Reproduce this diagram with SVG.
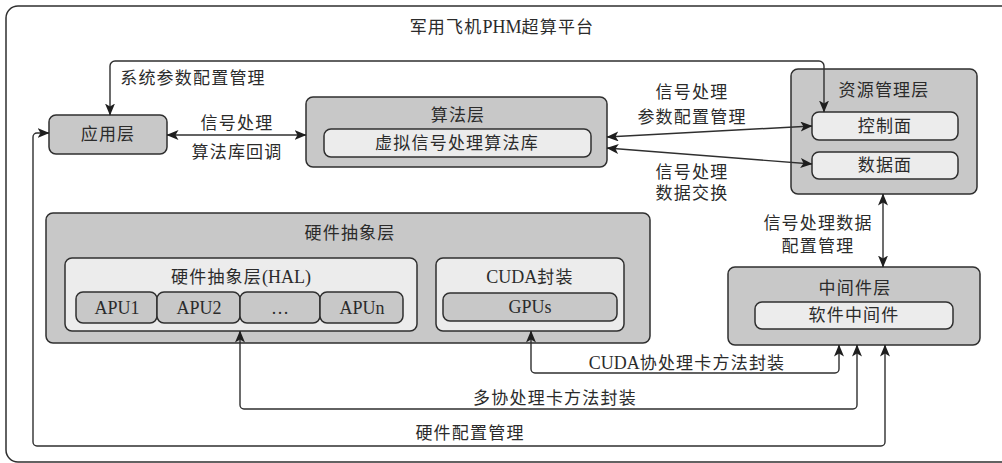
<svg xmlns="http://www.w3.org/2000/svg" width="1002" height="463" viewBox="0 0 1002 463">
<style>
.t{font-family:"Liberation Serif","Noto Sans CJK SC",serif;font-size:17px;fill:#2b2b2b;text-anchor:middle;dominant-baseline:central;letter-spacing:1.2px}
.n{letter-spacing:0;font-size:18px}
.g{fill:#c8c8c8;stroke:#2f2f2f;stroke-width:1.5}
.l{fill:#ececec;stroke:#2f2f2f;stroke-width:1.5}
.c{fill:none;stroke:#2f2f2f;stroke-width:1.4;marker-start:url(#ah);marker-end:url(#ah)}
</style>
<defs>
<marker id="ah" viewBox="0 0 12 10" refX="11.5" refY="5" markerWidth="12" markerHeight="10" markerUnits="userSpaceOnUse" orient="auto-start-reverse">
<path d="M0,0 L12,5 L0,10 L3,5 z" fill="#1e1e1e"/>
</marker>
</defs>
<rect width="1002" height="463" fill="#ffffff"/>
<g id="platform">
<rect x="6" y="6" width="1010" height="456" rx="12" fill="none" stroke="#2f2f2f" stroke-width="1.5"/>
<text class="t" x="502" y="27">军用飞机<tspan class="n">PHM</tspan>超算平台</text>
</g>
<g id="app">
<rect class="g" x="49" y="115" width="118" height="39" rx="7"/>
<text class="t" x="108" y="134">应用层</text>
</g>
<g id="algo">
<rect class="g" x="306" y="97" width="301" height="70" rx="7"/>
<text class="t" x="458" y="115">算法层</text>
<rect class="l" x="324" y="129" width="267" height="28" rx="7"/>
<text class="t" x="457" y="143">虚拟信号处理算法库</text>
</g>
<g id="resource">
<rect class="g" x="791" y="69" width="186" height="125" rx="7"/>
<text class="t" x="884" y="90">资源管理层</text>
<rect class="l" x="812" y="112" width="146" height="28" rx="7"/>
<text class="t" x="885" y="126">控制面</text>
<rect class="l" x="812" y="152" width="146" height="27" rx="7"/>
<text class="t" x="885" y="165">数据面</text>
</g>
<g id="middleware">
<rect class="g" x="728" y="267" width="252" height="78" rx="7"/>
<text class="t" x="855" y="288">中间件层</text>
<rect class="l" x="755" y="302" width="198" height="27" rx="7"/>
<text class="t" x="854" y="315">软件中间件</text>
</g>
<g id="hardware">
<rect class="g" x="46" y="213" width="604" height="130" rx="7"/>
<text class="t" x="350" y="233">硬件抽象层</text>
<g id="hal">
<rect class="l" x="65" y="258" width="352" height="73" rx="7"/>
<text class="t" x="241" y="277">硬件抽象层<tspan class="n">(HAL)</tspan></text>
<rect class="g" x="76" y="292" width="81" height="31" rx="7"/>
<text class="t n" x="117" y="308">APU1</text>
<rect class="g" x="157" y="292" width="83" height="31" rx="7"/>
<text class="t n" x="199" y="308">APU2</text>
<rect class="g" x="240" y="292" width="80" height="31" rx="7"/>
<text class="t n" x="280" y="308">…</text>
<rect class="g" x="320" y="292" width="83" height="31" rx="7"/>
<text class="t n" x="362" y="308">APUn</text>
</g>
<g id="cuda">
<rect class="l" x="436" y="258" width="188" height="73" rx="7"/>
<text class="t" x="530" y="277"><tspan class="n">CUDA</tspan>封装</text>
<rect class="g" x="443" y="293" width="174" height="28" rx="7"/>
<text class="t n" x="530" y="307">GPUs</text>
</g>
</g>
<g id="connectors">
<path class="c" d="M110,115 V66 a5,5 0 0 1 5,-5 H819 a5,5 0 0 1 5,5 V112"/>
<path class="c" d="M167,135 H306"/>
<path class="c" d="M607,137 L812,126"/>
<path class="c" d="M607,148 L812,164"/>
<path class="c" d="M883,194 V267"/>
<path class="c" d="M531,331 V369 a4,4 0 0 0 4,4 H835 a4,4 0 0 0 4,-4 V345"/>
<path class="c" d="M240,331 V405 a4,4 0 0 0 4,4 H853 a4,4 0 0 0 4,-4 V345"/>
<path class="c" d="M49,133 H37 a4,4 0 0 0 -4,4 V442 a4,4 0 0 0 4,4 H881 a4,4 0 0 0 4,-4 V345"/>
<text class="t" x="193" y="78">系统参数配置管理</text>
<text class="t" x="237" y="123">信号处理</text>
<text class="t" x="237" y="152">算法库回调</text>
<text class="t" x="692" y="92">信号处理</text>
<text class="t" x="692" y="117">参数配置管理</text>
<text class="t" x="692" y="172">信号处理</text>
<text class="t" x="692" y="193">数据交换</text>
<text class="t" x="818" y="223">信号处理数据</text>
<text class="t" x="818" y="246">配置管理</text>
<text class="t" x="687" y="363"><tspan class="n">CUDA</tspan>协处理卡方法封装</text>
<text class="t" x="555" y="398">多协处理卡方法封装</text>
<text class="t" x="470" y="433">硬件配置管理</text>
</g>
</svg>
